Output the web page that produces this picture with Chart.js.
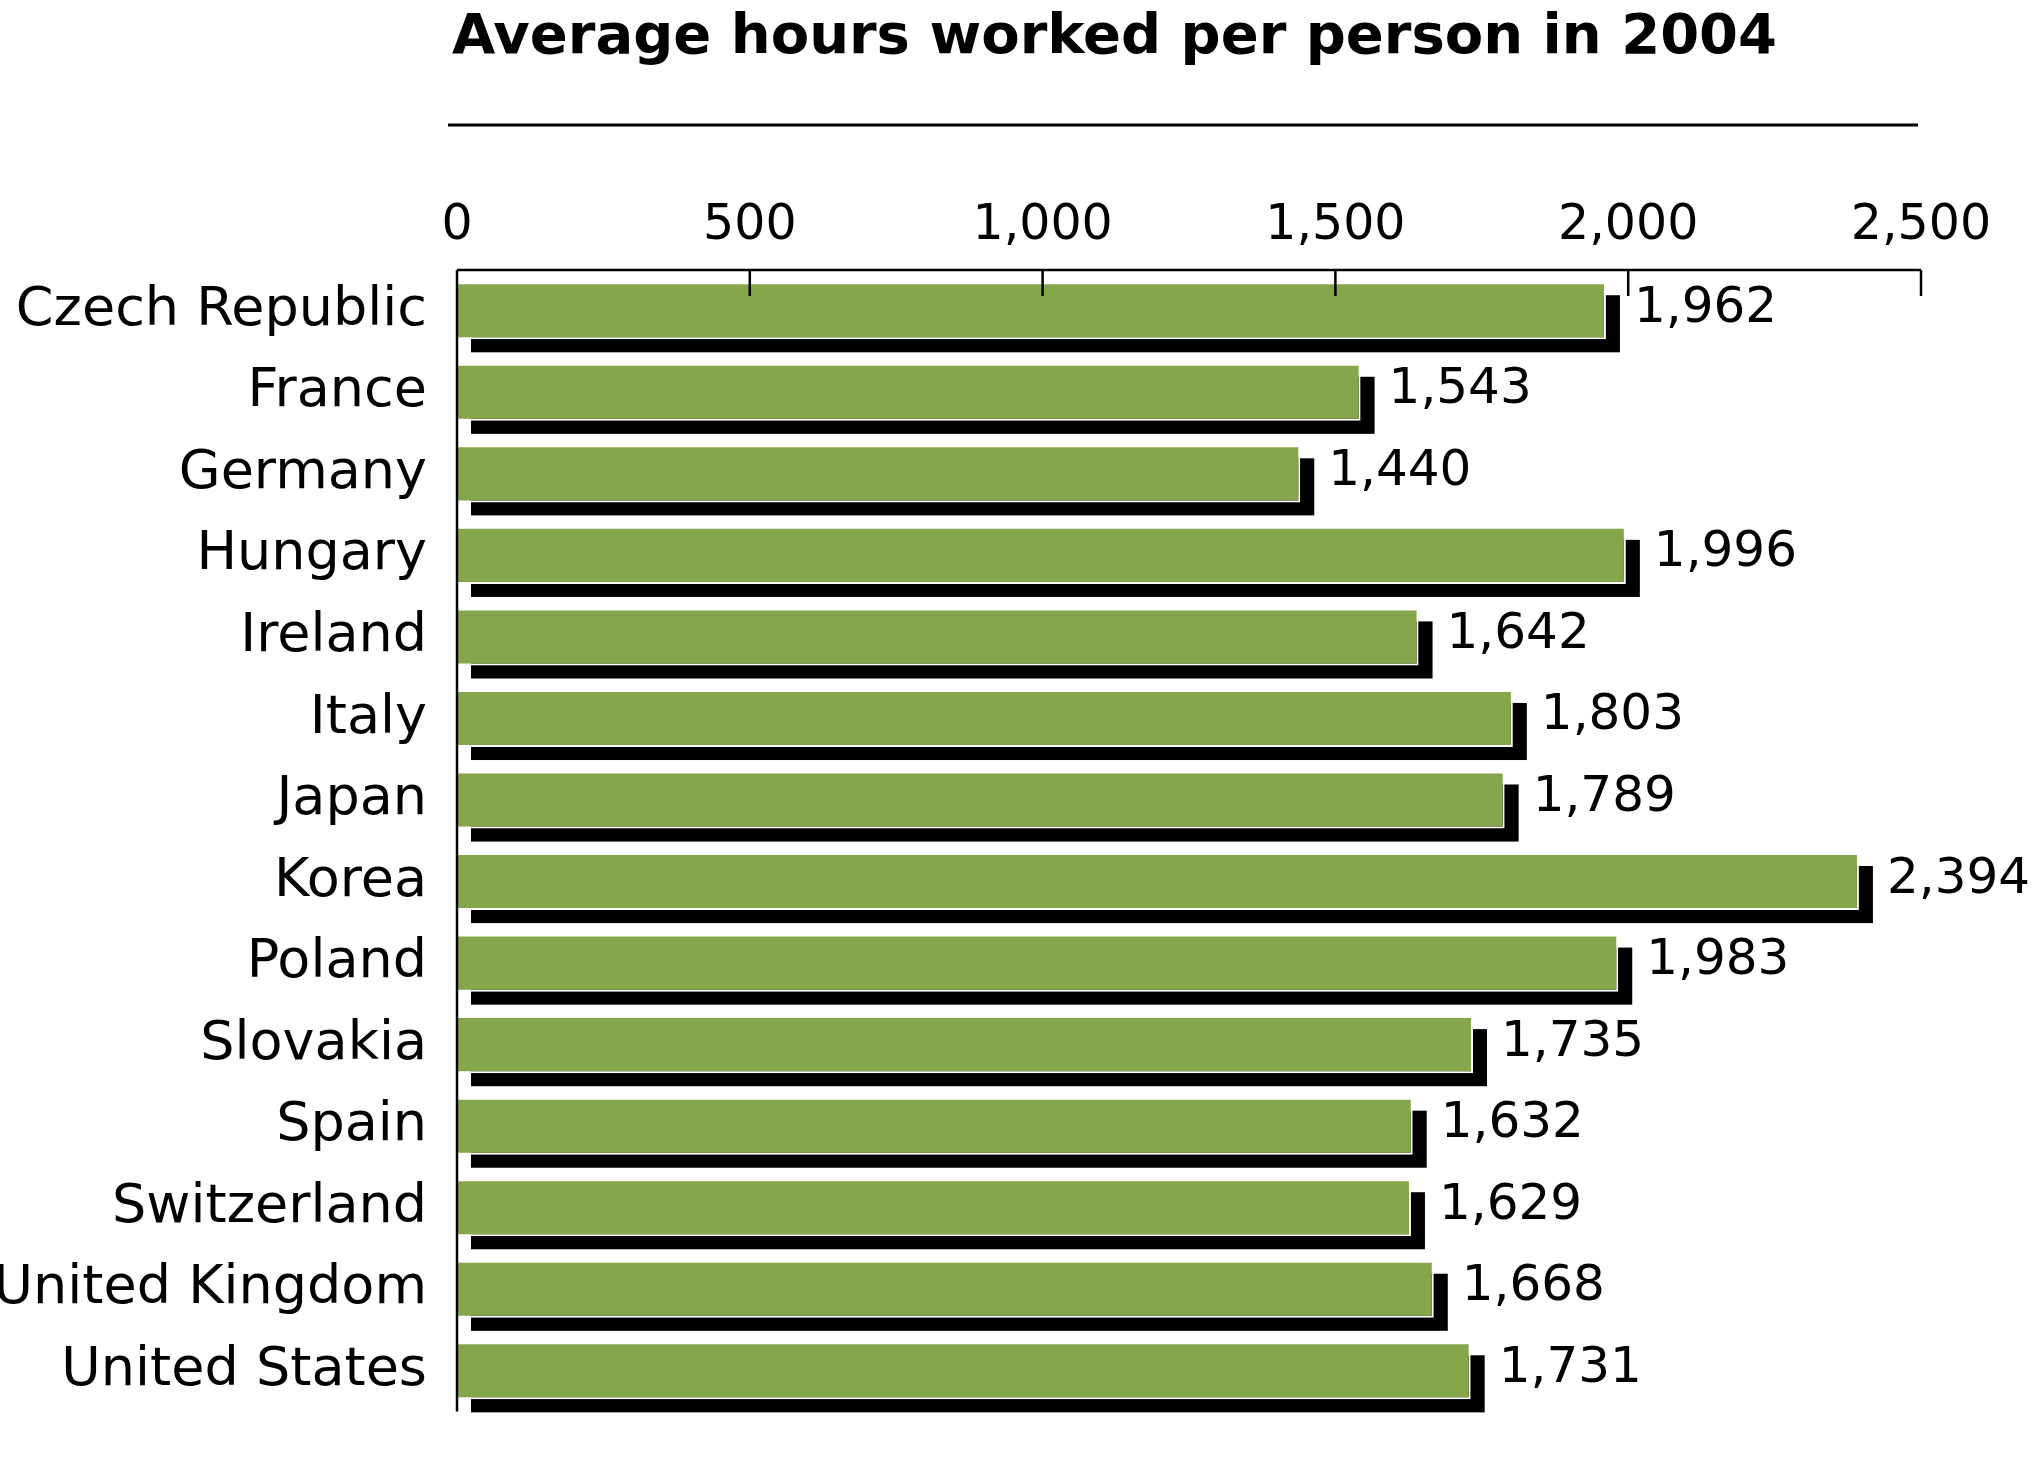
<!DOCTYPE html>
<html><head><meta charset="utf-8">
<script src="https://cdn.jsdelivr.net/npm/chart.js@4"></script>
<style>html,body{margin:0;padding:0;background:#fff}#w{width:2037px;height:1466px}</style>
</head><body><div id="w"><canvas id="c"></canvas></div>
<script>
const categories=["Czech Republic","France","Germany","Hungary","Ireland","Italy","Japan","Korea","Poland","Slovakia","Spain","Switzerland","United Kingdom","United States"];
const hours=[1962,1543,1440,1996,1642,1803,1789,2394,1983,1735,1632,1629,1668,1731];
const tickValues=[0,500,1000,1500,2000,2500];
const titleText="Average hours worked per person in 2004";
const F="'DejaVu Sans', Verdana, sans-serif";

const deco={id:'deco',
 beforeDatasetsDraw(ch){const c=ch.ctx;const m=ch.getDatasetMeta(0);
  c.save();c.fillStyle='#000';
  m.data.forEach(b=>{const h=b.height;c.fillRect(b.base+14,b.y-h/2+13,b.x-b.base,h);});
  c.restore();},
 afterDraw(ch){const c=ch.ctx,a=ch.chartArea,x=ch.scales.x;
  c.save();
  c.fillStyle='#000';c.font='bold 56px '+F;c.textBaseline='middle';c.textAlign='left';
  c.fillText(titleText,452,38);
  c.lineWidth=3;c.beginPath();c.moveTo(448,125);c.lineTo(1918,125);c.stroke();
  c.lineWidth=2.5;c.beginPath();c.moveTo(a.left,a.top);c.lineTo(x.getPixelForValue(2500),a.top);c.moveTo(a.left,a.top);c.lineTo(a.left,a.bottom);
  tickValues.forEach(v=>{const px=x.getPixelForValue(v);c.moveTo(px,a.top);c.lineTo(px,a.top+26);});c.stroke();
  c.font='50px '+F;c.textAlign='left';
  const m=ch.getDatasetMeta(0);
  m.data.forEach((b,i)=>{c.fillText(hours[i].toLocaleString('en-US'),b.x+28,b.y-2);});
  c.restore();}
};
new Chart(document.getElementById('c'),{type:'bar',
 data:{labels:categories,datasets:[{data:hours,backgroundColor:'#86a64b',borderColor:'#ffffff',borderWidth:2,barPercentage:0.7,categoryPercentage:1}]},
 options:{indexAxis:'y',responsive:true,maintainAspectRatio:false,animation:false,devicePixelRatio:1,
  layout:{padding:{top:150,right:116,bottom:0,left:0}},
  plugins:{legend:{display:false},tooltip:{enabled:false}},
  scales:{
   x:{position:'top',min:0,max:2500,afterBuildTicks(s){s.ticks=tickValues.map(v=>({value:v}));},
    afterFit(s){s.height=120;},
    grid:{display:false},border:{display:false},
    ticks:{color:'#000',font:{family:F,size:49},padding:6,callback:v=>v.toLocaleString('en-US'),maxRotation:0}},
   y:{afterFit(s){s.width=457;},grid:{display:false},border:{display:false},
    ticks:{color:'#000',font:{family:F,size:54},padding:22}}
  }},
 plugins:[deco]});
</script></body></html>
